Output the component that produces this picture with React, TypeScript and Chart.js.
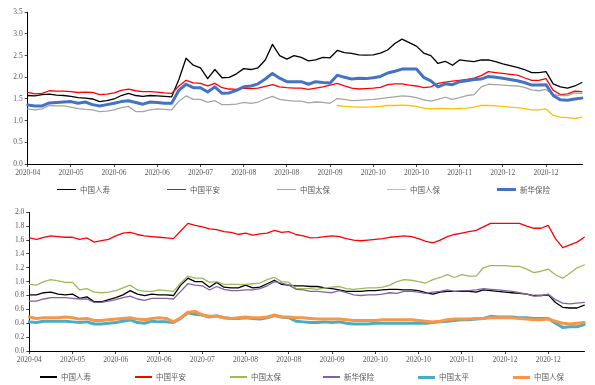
import React, { useEffect, useRef } from 'react';
import { Chart, registerables } from 'chart.js';

Chart.register(...registerables);

// ---------- data ----------
const TICK_LABELS = [
  '2020-04', '2020-05', '2020-06', '2020-06', '2020-07', '2020-08', '2020-08',
  '2020-09', '2020-10', '2020-10', '2020-11', '2020-12', '2020-12',
];
const POINTS_PER_TICK = 6;
const N_POINTS = 78;

// top chart
const TOP_RENSHOU = [
  1.58, 1.57, 1.60, 1.61, 1.59, 1.58, 1.56, 1.53, 1.52, 1.50,
  1.44, 1.46, 1.50, 1.58, 1.63, 1.58, 1.56, 1.58, 1.57, 1.56,
  1.55, 1.95, 2.44, 2.28, 2.22, 1.97, 2.18, 1.99, 2.00, 2.08,
  2.20, 2.18, 2.22, 2.40, 2.76, 2.50, 2.42, 2.50,
  2.46, 2.38, 2.40, 2.46, 2.45, 2.62, 2.57, 2.55, 2.52, 2.51,
  2.52, 2.56, 2.63, 2.78, 2.88, 2.80, 2.72, 2.56, 2.50, 2.32,
  2.37, 2.28, 2.40, 2.38, 2.36, 2.40, 2.40, 2.36, 2.31, 2.27,
  2.23, 2.18, 2.11, 2.11, 2.13, 1.85, 1.78, 1.75, 1.80, 1.88,
];
const TOP_PINGAN = [
  1.65, 1.62, 1.63, 1.69, 1.68, 1.68, 1.67, 1.65, 1.66, 1.65,
  1.60, 1.61, 1.64, 1.70, 1.73, 1.69, 1.67, 1.67, 1.66, 1.64,
  1.63, 1.80, 1.93, 1.87, 1.86, 1.80, 1.86, 1.76, 1.73, 1.72,
  1.75, 1.74, 1.75, 1.79, 1.83, 1.78, 1.76, 1.75,
  1.75, 1.72, 1.75, 1.78, 1.82, 1.86, 1.80, 1.75, 1.73, 1.74,
  1.75, 1.77, 1.83, 1.85, 1.85, 1.82, 1.80, 1.76, 1.78, 1.86,
  1.89, 1.91, 1.93, 1.95, 1.98, 2.04, 2.13, 2.11, 2.09, 2.07,
  2.05, 1.99, 1.93, 1.93, 1.97, 1.70, 1.60, 1.62, 1.68, 1.67,
];
const TOP_TAIBAO = [
  1.27, 1.25, 1.27, 1.35, 1.34, 1.34, 1.31, 1.28, 1.26, 1.25,
  1.21, 1.22, 1.25, 1.30, 1.33, 1.21, 1.21, 1.25, 1.27, 1.26,
  1.25, 1.45, 1.57, 1.49, 1.49, 1.42, 1.46, 1.37, 1.37, 1.38,
  1.42, 1.40, 1.43, 1.50, 1.56, 1.49, 1.47, 1.45,
  1.45, 1.41, 1.43, 1.42, 1.40, 1.51, 1.49, 1.46, 1.47, 1.48,
  1.49, 1.51, 1.53, 1.55, 1.57, 1.56, 1.53, 1.48, 1.45, 1.49,
  1.54, 1.49, 1.53, 1.58, 1.60, 1.78, 1.84, 1.83, 1.82, 1.81,
  1.80, 1.77, 1.71, 1.69, 1.72, 1.60, 1.58, 1.58, 1.64, 1.63,
];
const TOP_RENBAO = [
  null, null, null, null, null, null, null, null, null, null,
  null, null, null, null, null, null, null, null, null, null,
  null, null, null, null, null, null, null, null, null, null,
  null, null, null, null, null, null, null, null,
  null, null, null, null, null, 1.35, 1.33, 1.32, 1.31, 1.31,
  1.32, 1.33, 1.35, 1.35, 1.36, 1.35, 1.33, 1.29, 1.27, 1.28,
  1.28, 1.27, 1.28, 1.29, 1.31, 1.35, 1.35, 1.34, 1.33, 1.31,
  1.30, 1.28, 1.25, 1.25, 1.27, 1.12, 1.08, 1.07, 1.05, 1.08,
];
const TOP_XINHUA = [
  1.36, 1.34, 1.34, 1.41, 1.42, 1.43, 1.44, 1.40, 1.43, 1.37,
  1.34, 1.37, 1.40, 1.44, 1.46, 1.42, 1.38, 1.43, 1.42, 1.40,
  1.40, 1.70, 1.84, 1.76, 1.76, 1.66, 1.78, 1.63, 1.64, 1.70,
  1.78, 1.80, 1.85, 1.96, 2.09, 1.98, 1.90, 1.90,
  1.90, 1.84, 1.90, 1.88, 1.87, 2.05, 2.00, 1.96, 1.98, 1.97,
  1.99, 2.02, 2.10, 2.14, 2.19, 2.19, 2.19, 2.00, 1.92, 1.78,
  1.85, 1.83, 1.90, 1.92, 1.95, 1.96, 2.02, 2.00, 1.98, 1.95,
  1.92, 1.88, 1.82, 1.82, 1.83, 1.58, 1.48, 1.47, 1.50, 1.52,
];

// bottom chart
const BOT_RENSHOU = [
  0.81, 0.81, 0.84, 0.85, 0.82, 0.81, 0.82, 0.76, 0.78, 0.71,
  0.71, 0.74, 0.77, 0.81, 0.87, 0.82, 0.80, 0.82, 0.81, 0.81,
  0.80, 0.95, 1.05, 1.00, 1.00, 0.92, 0.99, 0.92, 0.91, 0.91,
  0.95, 0.91, 0.92, 0.97, 1.02, 0.96, 0.95, 0.94,
  0.94, 0.93, 0.93, 0.91, 0.90, 0.88, 0.86, 0.86, 0.86, 0.87,
  0.87, 0.88, 0.89, 0.89, 0.88, 0.88, 0.87, 0.84, 0.82, 0.85,
  0.86, 0.86, 0.86, 0.86, 0.85, 0.88, 0.87, 0.86, 0.85, 0.84,
  0.83, 0.82, 0.80, 0.80, 0.81, 0.70, 0.63, 0.62, 0.62, 0.66,
];
const BOT_PINGAN = [
  1.63, 1.61, 1.64, 1.66, 1.65, 1.64, 1.64, 1.61, 1.63, 1.57,
  1.59, 1.61, 1.66, 1.70, 1.71, 1.68, 1.66, 1.65, 1.64, 1.63,
  1.62, 1.73, 1.84, 1.81, 1.79, 1.76, 1.75, 1.72, 1.71, 1.68,
  1.70, 1.67, 1.69, 1.70, 1.74, 1.71, 1.72, 1.68,
  1.66, 1.63, 1.635, 1.65, 1.66, 1.65, 1.62, 1.60, 1.59, 1.60,
  1.61, 1.62, 1.64, 1.65, 1.66, 1.65, 1.62, 1.58, 1.56, 1.60,
  1.65, 1.68, 1.70, 1.72, 1.74, 1.79, 1.84, 1.84, 1.84, 1.84,
  1.84, 1.80, 1.77, 1.77, 1.81, 1.62, 1.49, 1.53, 1.57, 1.64,
];
const BOT_TAIBAO = [
  0.96, 0.95, 1.00, 1.03, 1.01, 0.99, 0.99, 0.88, 0.90, 0.85,
  0.84, 0.85, 0.87, 0.91, 0.95, 0.88, 0.86, 0.86, 0.88, 0.87,
  0.86, 0.98, 1.08, 1.05, 1.05, 0.99, 1.00, 0.96, 0.96, 0.96,
  0.96, 0.97, 0.98, 1.03, 1.06, 1.00, 0.99, 0.90,
  0.90, 0.90, 0.89, 0.91, 0.92, 0.93, 0.90, 0.89, 0.90, 0.91,
  0.91, 0.92, 0.95, 1.00, 1.03, 1.02, 1.00, 0.98, 1.03, 1.06,
  1.10, 1.06, 1.10, 1.08, 1.08, 1.20, 1.23, 1.23, 1.23, 1.22,
  1.22, 1.18, 1.13, 1.15, 1.18, 1.10, 1.05, 1.12, 1.20, 1.24,
];
const BOT_XINHUA = [
  0.72, 0.72, 0.75, 0.77, 0.77, 0.77, 0.76, 0.75, 0.75, 0.70,
  0.70, 0.72, 0.74, 0.77, 0.79, 0.75, 0.73, 0.76, 0.76, 0.76,
  0.75, 0.86, 0.97, 0.95, 0.94, 0.88, 0.93, 0.89, 0.87, 0.87,
  0.88, 0.88, 0.90, 0.94, 1.00, 0.98, 0.95, 0.89,
  0.88, 0.86, 0.86, 0.85, 0.84, 0.87, 0.84, 0.81, 0.80, 0.81,
  0.81, 0.82, 0.84, 0.83, 0.86, 0.86, 0.85, 0.83, 0.85, 0.86,
  0.88, 0.86, 0.87, 0.87, 0.88, 0.90, 0.89, 0.88, 0.87, 0.86,
  0.84, 0.82, 0.79, 0.80, 0.82, 0.74, 0.69, 0.68, 0.69, 0.70,
];
const BOT_TAIPING = [
  0.42, 0.41, 0.43, 0.43, 0.43, 0.43, 0.42, 0.41, 0.42, 0.39,
  0.39, 0.40, 0.41, 0.43, 0.45, 0.41, 0.40, 0.43, 0.42, 0.42,
  0.41, 0.47, 0.55, 0.53, 0.52, 0.49, 0.51, 0.48, 0.47, 0.47,
  0.48, 0.47, 0.46, 0.48, 0.51, 0.49, 0.48, 0.43,
  0.42, 0.41, 0.41, 0.42, 0.41, 0.42, 0.40, 0.39, 0.39, 0.39,
  0.40, 0.40, 0.40, 0.40, 0.40, 0.40, 0.40, 0.40, 0.41, 0.42,
  0.43, 0.44, 0.45, 0.45, 0.46, 0.47, 0.50, 0.49, 0.49, 0.49,
  0.48, 0.48, 0.47, 0.47, 0.47, 0.40, 0.34, 0.35, 0.35, 0.38,
];
const BOT_RENBAO = [
  0.49, 0.47, 0.48, 0.48, 0.48, 0.49, 0.48, 0.46, 0.47, 0.44,
  0.44, 0.45, 0.46, 0.47, 0.48, 0.46, 0.45, 0.47, 0.48, 0.47,
  0.42, 0.48, 0.56, 0.57, 0.52, 0.50, 0.50, 0.48, 0.47, 0.48,
  0.49, 0.48, 0.48, 0.49, 0.52, 0.49, 0.49, 0.48,
  0.48, 0.47, 0.46, 0.46, 0.46, 0.46, 0.45, 0.44, 0.44, 0.44,
  0.44, 0.45, 0.45, 0.45, 0.45, 0.45, 0.44, 0.43, 0.42, 0.43,
  0.45, 0.46, 0.46, 0.46, 0.47, 0.47, 0.48, 0.48, 0.48, 0.48,
  0.47, 0.46, 0.45, 0.45, 0.46, 0.43, 0.40, 0.39, 0.40, 0.41,
];

// ---------- series definitions ----------
type Series = { label: string; data: (number | null)[]; color: string; width: number };

const TOP_SERIES: Series[] = [
  { label: '中国人寿', data: TOP_RENSHOU, color: '#000000', width: 1.3 },
  { label: '中国平安', data: TOP_PINGAN, color: '#FF0000', width: 1.3 },
  { label: '中国太保', data: TOP_TAIBAO, color: '#A5A5A5', width: 1.3 },
  { label: '中国人保', data: TOP_RENBAO, color: '#FFC000', width: 1.3 },
  { label: '新华保险', data: TOP_XINHUA, color: '#4472C4', width: 3 },
];
const BOT_SERIES: Series[] = [
  { label: '中国人寿', data: BOT_RENSHOU, color: '#000000', width: 1.3 },
  { label: '中国平安', data: BOT_PINGAN, color: '#FF0000', width: 1.3 },
  { label: '中国太保', data: BOT_TAIBAO, color: '#9BBB59', width: 1.3 },
  { label: '新华保险', data: BOT_XINHUA, color: '#8064A2', width: 1.3 },
  { label: '中国太平', data: BOT_TAIPING, color: '#4BACC6', width: 3 },
  { label: '中国人保', data: BOT_RENBAO, color: '#F79646', width: 3 },
];

const CATEGORY_LABELS = Array.from({ length: N_POINTS }, (_, i) =>
  i % POINTS_PER_TICK === 0 ? TICK_LABELS[i / POINTS_PER_TICK] : ''
);

const TICK_FONT = { family: '"Liberation Serif", "Times New Roman", serif', size: 7.5 };
const TEXT_COLOR = '#595959';

type Layout = {
  width: number;
  height: number;
  yMax: number;
  yStep: number;
  yWidth: number;
  padRight: number;
  padTop: number;
  padBottom: number;
  xHeight: number;
};

function buildConfig(series: Series[], L: Layout): any {
  const n = series.length;
  return {
    type: 'line',
    data: {
      labels: CATEGORY_LABELS,
      datasets: series.map((s, i) => ({
        label: s.label,
        data: s.data,
        borderColor: s.color,
        backgroundColor: s.color,
        borderWidth: s.width,
        pointRadius: 0,
        pointHoverRadius: 0,
        tension: 0,
        fill: false,
        spanGaps: false,
        order: n - i,
        borderJoinStyle: 'round',
        borderCapStyle: 'round',
      })),
    },
    options: {
      responsive: false,
      devicePixelRatio: 1,
      animation: false,
      layout: { padding: { left: 0, right: L.padRight, top: L.padTop, bottom: L.padBottom } },
      plugins: { legend: { display: false }, tooltip: { enabled: false } },
      scales: {
        x: {
          type: 'category',
          offset: false,
          grid: { display: true, drawOnChartArea: false, drawTicks: true, tickLength: 3, color: '#000000', lineWidth: 0.75 },
          border: { display: true, color: '#000000', width: 1 },
          ticks: {
            autoSkip: false,
            maxRotation: 0,
            minRotation: 0,
            padding: 2,
            font: TICK_FONT,
            color: TEXT_COLOR,
          },
          afterBuildTicks: (s: any) => {
            s.ticks = s.ticks.filter((t: any) => t.value % POINTS_PER_TICK === 0);
          },
          afterFit: (s: any) => {
            s.height = L.xHeight;
          },
        },
        y: {
          min: 0,
          max: L.yMax,
          grid: { display: true, drawOnChartArea: false, drawTicks: true, tickLength: 3, color: '#000000', lineWidth: 0.75 },
          border: { display: true, color: '#000000', width: 1 },
          ticks: {
            stepSize: L.yStep,
            padding: 2,
            font: TICK_FONT,
            color: TEXT_COLOR,
            callback: (v: any) => Number(v).toFixed(1),
          },
          afterFit: (s: any) => {
            s.width = L.yWidth;
          },
        },
      },
    },
  };
}

const TOP_LAYOUT: Layout = {
  width: 595, height: 197, yMax: 3.5, yStep: 0.5, yWidth: 27.7,
  padRight: 13, padTop: 12.3, padBottom: 17, xHeight: 16,
};
const BOT_LAYOUT: Layout = {
  width: 595, height: 188, yMax: 2.0, yStep: 0.2, yWidth: 29.3,
  padRight: 10.7, padTop: 15.3, padBottom: 18, xHeight: 16,
};

// legend placement (positions only)
const TOP_LEGEND_X = [57, 167, 277, 387, 497];
const BOT_LEGEND_X = [40, 135, 230, 323, 418, 513];

function ChartBox({ series, layout, top }: { series: Series[]; layout: Layout; top: number }) {
  const ref = useRef<HTMLCanvasElement | null>(null);
  useEffect(() => {
    if (!ref.current) return;
    const chart = new Chart(ref.current, buildConfig(series, layout));
    return () => chart.destroy();
  }, [series, layout]);
  return (
    <canvas
      ref={ref}
      width={layout.width}
      height={layout.height}
      style={{ position: 'absolute', left: 0, top, width: layout.width, height: layout.height }}
    />
  );
}

function Legend({ series, xs, y, lineLen }: { series: Series[]; xs: number[]; y: number; lineLen: number }) {
  return (
    <>
      {series.map((s, i) => (
        <div
          key={s.label}
          style={{
            position: 'absolute',
            left: xs[i],
            top: y - 6,
            height: 12,
            display: 'flex',
            alignItems: 'center',
          }}
        >
          <div style={{ width: lineLen, height: s.width === 3 ? 3 : 1.3, background: s.color }} />
          <span
            style={{
              marginLeft: 4,
              fontFamily: '"Noto Sans CJK SC", sans-serif',
              fontSize: 7.5,
              lineHeight: '12px',
              color: TEXT_COLOR,
              whiteSpace: 'nowrap',
            }}
          >
            {s.label}
          </span>
        </div>
      ))}
    </>
  );
}

export default function App() {
  return (
    <div
      style={{
        position: 'fixed',
        left: 0,
        top: 0,
        width: 595,
        height: 385,
        background: '#ffffff',
        overflow: 'hidden',
      }}
    >
      <ChartBox series={TOP_SERIES} layout={TOP_LAYOUT} top={0} />
      <Legend series={TOP_SERIES} xs={TOP_LEGEND_X} y={189.5} lineLen={19} />
      <ChartBox series={BOT_SERIES} layout={BOT_LAYOUT} top={197} />
      <Legend series={BOT_SERIES} xs={BOT_LEGEND_X} y={377} lineLen={17} />
    </div>
  );
}
